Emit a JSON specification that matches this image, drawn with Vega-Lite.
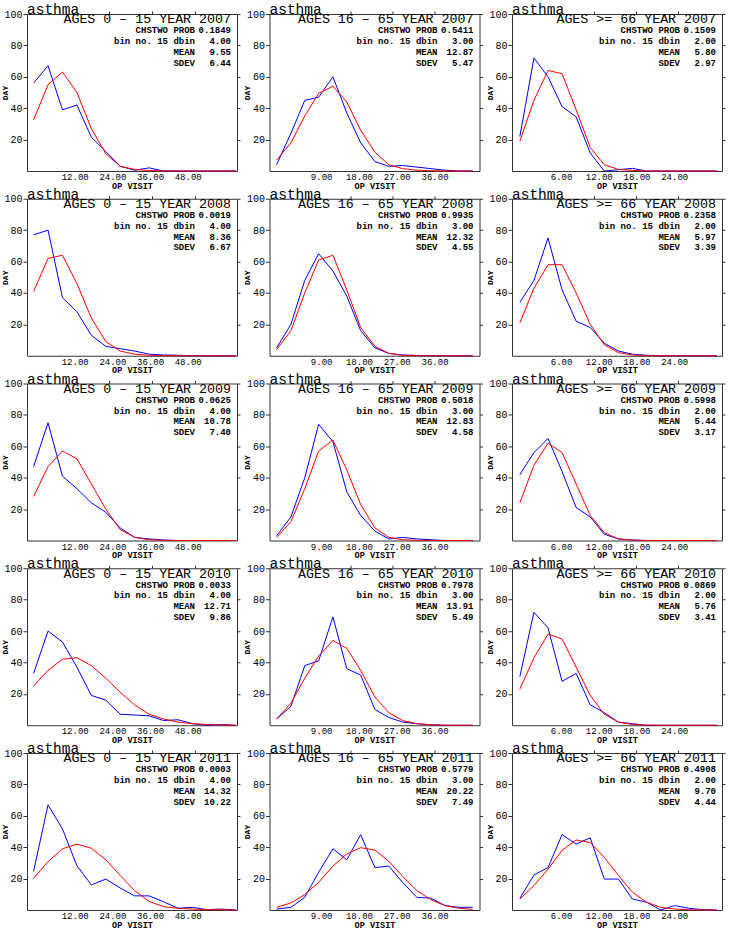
{
"$schema":"https://vega.github.io/schema/vega-lite/v6.json",
"padding":{"left":0,"top":1,"right":0,"bottom":0},
"background":"white",
"datasets":{
"stats":[
{"p":"r1c1","header":"AGES 0 – 15 YEAR 2007","vals":["0.1849","4.00","9.55","6.44"]},
{"p":"r1c2","header":"AGES 16 – 65 YEAR 2007","vals":["0.5411","3.00","12.87","5.47"]},
{"p":"r1c3","header":"AGES  >= 66 YEAR 2007","vals":["0.1509","2.00","5.80","2.97"]},
{"p":"r2c1","header":"AGES 0 – 15 YEAR 2008","vals":["0.0019","4.00","8.36","6.67"]},
{"p":"r2c2","header":"AGES 16 – 65 YEAR 2008","vals":["0.9935","3.00","12.32","4.55"]},
{"p":"r2c3","header":"AGES  >= 66 YEAR 2008","vals":["0.2358","2.00","5.97","3.39"]},
{"p":"r3c1","header":"AGES 0 – 15 YEAR 2009","vals":["0.0625","4.00","10.78","7.40"]},
{"p":"r3c2","header":"AGES 16 – 65 YEAR 2009","vals":["0.5018","3.00","12.83","4.58"]},
{"p":"r3c3","header":"AGES  >= 66 YEAR 2009","vals":["0.5998","2.00","5.44","3.17"]},
{"p":"r4c1","header":"AGES 0 – 15 YEAR 2010","vals":["0.0033","4.00","12.71","9.86"]},
{"p":"r4c2","header":"AGES 16 – 65 YEAR 2010","vals":["0.7978","3.00","13.91","5.49"]},
{"p":"r4c3","header":"AGES  >= 66 YEAR 2010","vals":["0.0869","2.00","5.76","3.41"]},
{"p":"r5c1","header":"AGES 0 – 15 YEAR 2011","vals":["0.0003","4.00","14.32","10.22"]},
{"p":"r5c2","header":"AGES 16 – 65 YEAR 2011","vals":["0.5779","3.00","20.22","7.49"]},
{"p":"r5c3","header":"AGES  >= 66 YEAR 2011","vals":["0.4908","2.00","9.70","4.44"]}
],
"curves":[
{"p":"r1c1","x":-1.1,"obs":56,"fit":32.5},{"p":"r1c1","x":3.5,"obs":67,"fit":55},{"p":"r1c1","x":8.1,"obs":39,"fit":63},{"p":"r1c1","x":12.7,"obs":42,"fit":50},{"p":"r1c1","x":17.3,"obs":21.5,"fit":27},{"p":"r1c1","x":21.9,"obs":12.5,"fit":11},{"p":"r1c1","x":26.5,"obs":3,"fit":3},{"p":"r1c1","x":31.1,"obs":0.5,"fit":1},{"p":"r1c1","x":35.7,"obs":2,"fit":0.3},{"p":"r1c1","x":40.3,"obs":0,"fit":0.1},{"p":"r1c1","x":44.9,"obs":0,"fit":0},{"p":"r1c1","x":49.5,"obs":0,"fit":0},{"p":"r1c1","x":54.1,"obs":0,"fit":0},{"p":"r1c1","x":58.7,"obs":0,"fit":0},{"p":"r1c1","x":63.3,"obs":0,"fit":0},
{"p":"r1c2","x":-1.6,"obs":4,"fit":7},{"p":"r1c2","x":1.8,"obs":24,"fit":18},{"p":"r1c2","x":5.1,"obs":45,"fit":35},{"p":"r1c2","x":8.4,"obs":47,"fit":49.5},{"p":"r1c2","x":11.8,"obs":60,"fit":54},{"p":"r1c2","x":15.1,"obs":37,"fit":44},{"p":"r1c2","x":18.4,"obs":18,"fit":26},{"p":"r1c2","x":21.8,"obs":6,"fit":12},{"p":"r1c2","x":25.1,"obs":3,"fit":4},{"p":"r1c2","x":28.4,"obs":3.5,"fit":1.5},{"p":"r1c2","x":31.8,"obs":2.5,"fit":0.5},{"p":"r1c2","x":35.1,"obs":1.5,"fit":0.2},{"p":"r1c2","x":38.5,"obs":0.5,"fit":0},{"p":"r1c2","x":41.8,"obs":0,"fit":0},{"p":"r1c2","x":45.1,"obs":0,"fit":0},
{"p":"r1c3","x":-0.55,"obs":22,"fit":19},{"p":"r1c3","x":1.69,"obs":72,"fit":45},{"p":"r1c3","x":3.93,"obs":60,"fit":64},{"p":"r1c3","x":6.16,"obs":41,"fit":62},{"p":"r1c3","x":8.4,"obs":34.5,"fit":39},{"p":"r1c3","x":10.64,"obs":11.5,"fit":15},{"p":"r1c3","x":12.88,"obs":0,"fit":4},{"p":"r1c3","x":15.12,"obs":0.8,"fit":1},{"p":"r1c3","x":17.35,"obs":1.7,"fit":0.4},{"p":"r1c3","x":19.59,"obs":0,"fit":0},{"p":"r1c3","x":21.83,"obs":0,"fit":0},{"p":"r1c3","x":24.07,"obs":0,"fit":0},{"p":"r1c3","x":26.3,"obs":0,"fit":0},{"p":"r1c3","x":28.54,"obs":0,"fit":0},{"p":"r1c3","x":30.78,"obs":0,"fit":0},
{"p":"r2c1","x":-1.1,"obs":77,"fit":41},{"p":"r2c1","x":3.5,"obs":80,"fit":62},{"p":"r2c1","x":8.1,"obs":37,"fit":64},{"p":"r2c1","x":12.7,"obs":28,"fit":46},{"p":"r2c1","x":17.3,"obs":13,"fit":24},{"p":"r2c1","x":21.9,"obs":6,"fit":9},{"p":"r2c1","x":26.5,"obs":4.5,"fit":3},{"p":"r2c1","x":31.1,"obs":3,"fit":1},{"p":"r2c1","x":35.7,"obs":1,"fit":0.3},{"p":"r2c1","x":40.3,"obs":0.5,"fit":0.1},{"p":"r2c1","x":44.9,"obs":0.3,"fit":0},{"p":"r2c1","x":49.5,"obs":0,"fit":0},{"p":"r2c1","x":54.1,"obs":0,"fit":0},{"p":"r2c1","x":58.7,"obs":0,"fit":0},{"p":"r2c1","x":63.3,"obs":0,"fit":0},
{"p":"r2c2","x":-1.6,"obs":5,"fit":4},{"p":"r2c2","x":1.8,"obs":20,"fit":16},{"p":"r2c2","x":5.1,"obs":48,"fit":40},{"p":"r2c2","x":8.4,"obs":65,"fit":61},{"p":"r2c2","x":11.8,"obs":54,"fit":64},{"p":"r2c2","x":15.1,"obs":38,"fit":42},{"p":"r2c2","x":18.4,"obs":16,"fit":18},{"p":"r2c2","x":21.8,"obs":5,"fit":6},{"p":"r2c2","x":25.1,"obs":1.5,"fit":1.5},{"p":"r2c2","x":28.4,"obs":0.5,"fit":0.3},{"p":"r2c2","x":31.8,"obs":0.2,"fit":0},{"p":"r2c2","x":35.1,"obs":0,"fit":0},{"p":"r2c2","x":38.5,"obs":0,"fit":0},{"p":"r2c2","x":41.8,"obs":0,"fit":0},{"p":"r2c2","x":45.1,"obs":0,"fit":0},
{"p":"r2c3","x":-0.55,"obs":34,"fit":21},{"p":"r2c3","x":1.69,"obs":48,"fit":43},{"p":"r2c3","x":3.93,"obs":75,"fit":58},{"p":"r2c3","x":6.16,"obs":42,"fit":58},{"p":"r2c3","x":8.4,"obs":22,"fit":40},{"p":"r2c3","x":10.64,"obs":18,"fit":20},{"p":"r2c3","x":12.88,"obs":8,"fit":7},{"p":"r2c3","x":15.12,"obs":3,"fit":2},{"p":"r2c3","x":17.35,"obs":1,"fit":0.5},{"p":"r2c3","x":19.59,"obs":0.3,"fit":0.1},{"p":"r2c3","x":21.83,"obs":0,"fit":0},{"p":"r2c3","x":24.07,"obs":0,"fit":0},{"p":"r2c3","x":26.3,"obs":0,"fit":0},{"p":"r2c3","x":28.54,"obs":0,"fit":0},{"p":"r2c3","x":30.78,"obs":0,"fit":0},
{"p":"r3c1","x":-1.1,"obs":47,"fit":28},{"p":"r3c1","x":3.5,"obs":75,"fit":47},{"p":"r3c1","x":8.1,"obs":41,"fit":57},{"p":"r3c1","x":12.7,"obs":33,"fit":52},{"p":"r3c1","x":17.3,"obs":24,"fit":36},{"p":"r3c1","x":21.9,"obs":18,"fit":20},{"p":"r3c1","x":26.5,"obs":8,"fit":7},{"p":"r3c1","x":31.1,"obs":2,"fit":2},{"p":"r3c1","x":35.7,"obs":1,"fit":0.5},{"p":"r3c1","x":40.3,"obs":0.3,"fit":0.1},{"p":"r3c1","x":44.9,"obs":0,"fit":0},{"p":"r3c1","x":49.5,"obs":0,"fit":0},{"p":"r3c1","x":54.1,"obs":0,"fit":0},{"p":"r3c1","x":58.7,"obs":0,"fit":0},{"p":"r3c1","x":63.3,"obs":0,"fit":0},
{"p":"r3c2","x":-1.6,"obs":3,"fit":2},{"p":"r3c2","x":1.8,"obs":15,"fit":12},{"p":"r3c2","x":5.1,"obs":40,"fit":33},{"p":"r3c2","x":8.4,"obs":74,"fit":57},{"p":"r3c2","x":11.8,"obs":63,"fit":64},{"p":"r3c2","x":15.1,"obs":31,"fit":45},{"p":"r3c2","x":18.4,"obs":16,"fit":23},{"p":"r3c2","x":21.8,"obs":6,"fit":8},{"p":"r3c2","x":25.1,"obs":1,"fit":2},{"p":"r3c2","x":28.4,"obs":2,"fit":0.5},{"p":"r3c2","x":31.8,"obs":1,"fit":0.1},{"p":"r3c2","x":35.1,"obs":0.5,"fit":0},{"p":"r3c2","x":38.5,"obs":0,"fit":0},{"p":"r3c2","x":41.8,"obs":0,"fit":0},{"p":"r3c2","x":45.1,"obs":0,"fit":0},
{"p":"r3c3","x":-0.55,"obs":42,"fit":24},{"p":"r3c3","x":1.69,"obs":56,"fit":48},{"p":"r3c3","x":3.93,"obs":65,"fit":62},{"p":"r3c3","x":6.16,"obs":44,"fit":56},{"p":"r3c3","x":8.4,"obs":21,"fit":36},{"p":"r3c3","x":10.64,"obs":15,"fit":16},{"p":"r3c3","x":12.88,"obs":4,"fit":5},{"p":"r3c3","x":15.12,"obs":1,"fit":1},{"p":"r3c3","x":17.35,"obs":0.3,"fit":0.3},{"p":"r3c3","x":19.59,"obs":0,"fit":0},{"p":"r3c3","x":21.83,"obs":0,"fit":0},{"p":"r3c3","x":24.07,"obs":0,"fit":0},{"p":"r3c3","x":26.3,"obs":0,"fit":0},{"p":"r3c3","x":28.54,"obs":0,"fit":0},{"p":"r3c3","x":30.78,"obs":0,"fit":0},
{"p":"r4c1","x":-1.1,"obs":33,"fit":25},{"p":"r4c1","x":3.5,"obs":60,"fit":35},{"p":"r4c1","x":8.1,"obs":53,"fit":42},{"p":"r4c1","x":12.7,"obs":37,"fit":43},{"p":"r4c1","x":17.3,"obs":19,"fit":38},{"p":"r4c1","x":21.9,"obs":16,"fit":30},{"p":"r4c1","x":26.5,"obs":7,"fit":21},{"p":"r4c1","x":31.1,"obs":6.5,"fit":13},{"p":"r4c1","x":35.7,"obs":6,"fit":7},{"p":"r4c1","x":40.3,"obs":3,"fit":4},{"p":"r4c1","x":44.9,"obs":3.5,"fit":2},{"p":"r4c1","x":49.5,"obs":1,"fit":1},{"p":"r4c1","x":54.1,"obs":0,"fit":0.5},{"p":"r4c1","x":58.7,"obs":0.5,"fit":0.2},{"p":"r4c1","x":63.3,"obs":0,"fit":0},
{"p":"r4c2","x":-1.6,"obs":4,"fit":4},{"p":"r4c2","x":1.8,"obs":12,"fit":14},{"p":"r4c2","x":5.1,"obs":38,"fit":30},{"p":"r4c2","x":8.4,"obs":41,"fit":44},{"p":"r4c2","x":11.8,"obs":69,"fit":54},{"p":"r4c2","x":15.1,"obs":36,"fit":49},{"p":"r4c2","x":18.4,"obs":32,"fit":35},{"p":"r4c2","x":21.8,"obs":10,"fit":18},{"p":"r4c2","x":25.1,"obs":5,"fit":8},{"p":"r4c2","x":28.4,"obs":2,"fit":3},{"p":"r4c2","x":31.8,"obs":1,"fit":1},{"p":"r4c2","x":35.1,"obs":0.3,"fit":0.3},{"p":"r4c2","x":38.5,"obs":0,"fit":0},{"p":"r4c2","x":41.8,"obs":0,"fit":0},{"p":"r4c2","x":45.1,"obs":0,"fit":0},
{"p":"r4c3","x":-0.55,"obs":31,"fit":23},{"p":"r4c3","x":1.69,"obs":72,"fit":43},{"p":"r4c3","x":3.93,"obs":62,"fit":58},{"p":"r4c3","x":6.16,"obs":28,"fit":55},{"p":"r4c3","x":8.4,"obs":33,"fit":37},{"p":"r4c3","x":10.64,"obs":13,"fit":19},{"p":"r4c3","x":12.88,"obs":8,"fit":7},{"p":"r4c3","x":15.12,"obs":2,"fit":2},{"p":"r4c3","x":17.35,"obs":1,"fit":0.5},{"p":"r4c3","x":19.59,"obs":0,"fit":0.1},{"p":"r4c3","x":21.83,"obs":0,"fit":0},{"p":"r4c3","x":24.07,"obs":0,"fit":0},{"p":"r4c3","x":26.3,"obs":0,"fit":0},{"p":"r4c3","x":28.54,"obs":0,"fit":0},{"p":"r4c3","x":30.78,"obs":0,"fit":0},
{"p":"r5c1","x":-1.1,"obs":24.6,"fit":20.2},{"p":"r5c1","x":3.5,"obs":67,"fit":30.8},{"p":"r5c1","x":8.1,"obs":51.6,"fit":39},{"p":"r5c1","x":12.7,"obs":28.2,"fit":42},{"p":"r5c1","x":17.3,"obs":16,"fit":39.3},{"p":"r5c1","x":21.9,"obs":19.7,"fit":32},{"p":"r5c1","x":26.5,"obs":14,"fit":22},{"p":"r5c1","x":31.1,"obs":9,"fit":12.3},{"p":"r5c1","x":35.7,"obs":9,"fit":5.5},{"p":"r5c1","x":40.3,"obs":5.3,"fit":2.1},{"p":"r5c1","x":44.9,"obs":1.1,"fit":1.1},{"p":"r5c1","x":49.5,"obs":1.7,"fit":0.6},{"p":"r5c1","x":54.1,"obs":0.2,"fit":0.2},{"p":"r5c1","x":58.7,"obs":0.6,"fit":0.2},{"p":"r5c1","x":63.3,"obs":0,"fit":0},
{"p":"r5c2","x":-1.6,"obs":0.6,"fit":1.7},{"p":"r5c2","x":1.8,"obs":1.7,"fit":4.5},{"p":"r5c2","x":5.1,"obs":8.1,"fit":9.8},{"p":"r5c2","x":8.4,"obs":24,"fit":17.6},{"p":"r5c2","x":11.8,"obs":39,"fit":28},{"p":"r5c2","x":15.1,"obs":32,"fit":35.7},{"p":"r5c2","x":18.4,"obs":48,"fit":39.7},{"p":"r5c2","x":21.8,"obs":27,"fit":38.2},{"p":"r5c2","x":25.1,"obs":28,"fit":31},{"p":"r5c2","x":28.4,"obs":17.6,"fit":21.4},{"p":"r5c2","x":31.8,"obs":8,"fit":12.3},{"p":"r5c2","x":35.1,"obs":7.6,"fit":6.6},{"p":"r5c2","x":38.5,"obs":2.8,"fit":2.8},{"p":"r5c2","x":41.8,"obs":1.7,"fit":1.1},{"p":"r5c2","x":45.1,"obs":1.7,"fit":0.4},
{"p":"r5c3","x":-0.55,"obs":7.4,"fit":7},{"p":"r5c3","x":1.69,"obs":22.3,"fit":15.5},{"p":"r5c3","x":3.93,"obs":27,"fit":26},{"p":"r5c3","x":6.16,"obs":48,"fit":38},{"p":"r5c3","x":8.4,"obs":42,"fit":44.6},{"p":"r5c3","x":10.64,"obs":46,"fit":43},{"p":"r5c3","x":12.88,"obs":19.7,"fit":33.5},{"p":"r5c3","x":15.12,"obs":19.7,"fit":22},{"p":"r5c3","x":17.35,"obs":7,"fit":11.3},{"p":"r5c3","x":19.59,"obs":5,"fit":5},{"p":"r5c3","x":21.83,"obs":0,"fit":1.7},{"p":"r5c3","x":24.07,"obs":2.8,"fit":0.6},{"p":"r5c3","x":26.3,"obs":1.1,"fit":0.2},{"p":"r5c3","x":28.54,"obs":0.2,"fit":0},{"p":"r5c3","x":30.78,"obs":0,"fit":0}
]
},
"columns":3,
"spacing":{"row":27.75,"column":32.5},
"bounds":"flush",
"concat":[
{"width":210,"height":157,"title":"asthma","layer":[
 {"data":{"name":"curves"},"transform":[{"filter":"datum.p=='r1c1'"}],"mark":{"type":"line","color":"#0000ff"},"encoding":{"x":{"field":"x","type":"quantitative","scale":{"domain":[-3.2,63.7],"nice":false,"zero":false},"axis":{"values":[12,24,36,48],"format":".2f","ticks":false,"labelPadding":1.5,"labelFontSize":9,"title":"OP VISIT","titleFontSize":8.5,"titleY":10,"titleBaseline":"top"}},"y":{"field":"obs","type":"quantitative","scale":{"domain":[0,100],"nice":false},"axis":{"values":[20,40,60,80,100],"labelPadding":1,"title":"DAY","titleFontSize":8,"titleX":-22,"titleY":78.5,"titleBaseline":"middle"}}}},
 {"data":{"name":"curves"},"transform":[{"filter":"datum.p=='r1c1'"}],"mark":{"type":"line","color":"#ff0000"},"encoding":{"x":{"field":"x","type":"quantitative","axis":{"orient":"top","values":[9.2,22.9,36.6,50.3],"labels":false,"tickSize":3,"title":null}},"y":{"field":"fit","type":"quantitative","axis":{"orient":"right","values":[20,40,60,80,100],"labels":false,"tickSize":3,"title":null}}}},
 {"data":{"name":"stats"},"transform":[{"filter":"datum.p=='r1c1'"}],"mark":{"type":"text","align":"right","baseline":"alphabetic","dx":-6,"fontSize":13.3},"encoding":{"x":{"datum":63.7,"type":"quantitative","axis":null},"y":{"datum":94,"type":"quantitative","axis":null},"text":{"field":"header"}}},
 {"data":{"name":"stats"},"transform":[{"filter":"datum.p=='r1c1'"}],"mark":{"type":"text","align":"right","baseline":"alphabetic","dx":-42,"fontSize":9,"fontWeight":"bold","lineHeight":10.8},"encoding":{"x":{"datum":63.7,"type":"quantitative","axis":null},"y":{"datum":87.7,"type":"quantitative","axis":null},"text":{"value":["CHSTWO PROB","bin no. 15 dbin","MEAN","SDEV"]}}},
 {"data":{"name":"stats"},"transform":[{"filter":"datum.p=='r1c1'"}],"mark":{"type":"text","align":"right","baseline":"alphabetic","dx":-6,"fontSize":9,"fontWeight":"bold","lineHeight":10.8},"encoding":{"x":{"datum":63.7,"type":"quantitative","axis":null},"y":{"datum":87.7,"type":"quantitative","axis":null},"text":{"field":"vals"}}}
],"resolve":{"axis":{"x":"independent","y":"independent"}}},
{"width":210,"height":157,"title":"asthma","layer":[
 {"data":{"name":"curves"},"transform":[{"filter":"datum.p=='r1c2'"}],"mark":{"type":"line","color":"#0000ff"},"encoding":{"x":{"field":"x","type":"quantitative","scale":{"domain":[-3.3,46.7],"nice":false,"zero":false},"axis":{"values":[9,18,27,36],"format":".2f","ticks":false,"labelPadding":1.5,"labelFontSize":9,"title":"OP VISIT","titleFontSize":8.5,"titleY":10,"titleBaseline":"top"}},"y":{"field":"obs","type":"quantitative","scale":{"domain":[0,100],"nice":false},"axis":{"values":[20,40,60,80,100],"labelPadding":1,"title":"DAY","titleFontSize":8,"titleX":-22,"titleY":78.5,"titleBaseline":"middle"}}}},
 {"data":{"name":"curves"},"transform":[{"filter":"datum.p=='r1c2'"}],"mark":{"type":"line","color":"#ff0000"},"encoding":{"x":{"field":"x","type":"quantitative","axis":{"orient":"top","values":[5.9,15.9,25.9,35.9],"labels":false,"tickSize":3,"title":null}},"y":{"field":"fit","type":"quantitative","axis":{"orient":"right","values":[20,40,60,80,100],"labels":false,"tickSize":3,"title":null}}}},
 {"data":{"name":"stats"},"transform":[{"filter":"datum.p=='r1c2'"}],"mark":{"type":"text","align":"right","baseline":"alphabetic","dx":-6,"fontSize":13.3},"encoding":{"x":{"datum":46.7,"type":"quantitative","axis":null},"y":{"datum":94,"type":"quantitative","axis":null},"text":{"field":"header"}}},
 {"data":{"name":"stats"},"transform":[{"filter":"datum.p=='r1c2'"}],"mark":{"type":"text","align":"right","baseline":"alphabetic","dx":-42,"fontSize":9,"fontWeight":"bold","lineHeight":10.8},"encoding":{"x":{"datum":46.7,"type":"quantitative","axis":null},"y":{"datum":87.7,"type":"quantitative","axis":null},"text":{"value":["CHSTWO PROB","bin no. 15 dbin","MEAN","SDEV"]}}},
 {"data":{"name":"stats"},"transform":[{"filter":"datum.p=='r1c2'"}],"mark":{"type":"text","align":"right","baseline":"alphabetic","dx":-6,"fontSize":9,"fontWeight":"bold","lineHeight":10.8},"encoding":{"x":{"datum":46.7,"type":"quantitative","axis":null},"y":{"datum":87.7,"type":"quantitative","axis":null},"text":{"field":"vals"}}}
],"resolve":{"axis":{"x":"independent","y":"independent"}}},
{"width":210,"height":157,"title":"asthma","layer":[
 {"data":{"name":"curves"},"transform":[{"filter":"datum.p=='r1c3'"}],"mark":{"type":"line","color":"#0000ff"},"encoding":{"x":{"field":"x","type":"quantitative","scale":{"domain":[-1.8,31.6],"nice":false,"zero":false},"axis":{"values":[6,12,18,24],"format":".2f","ticks":false,"labelPadding":1.5,"labelFontSize":9,"title":"OP VISIT","titleFontSize":8.5,"titleY":10,"titleBaseline":"top"}},"y":{"field":"obs","type":"quantitative","scale":{"domain":[0,100],"nice":false},"axis":{"values":[20,40,60,80,100],"labelPadding":1,"title":"DAY","titleFontSize":8,"titleX":-22,"titleY":78.5,"titleBaseline":"middle"}}}},
 {"data":{"name":"curves"},"transform":[{"filter":"datum.p=='r1c3'"}],"mark":{"type":"line","color":"#ff0000"},"encoding":{"x":{"field":"x","type":"quantitative","axis":{"orient":"top","values":[4.47,11.2,17.9,24.6],"labels":false,"tickSize":3,"title":null}},"y":{"field":"fit","type":"quantitative","axis":{"orient":"right","values":[20,40,60,80,100],"labels":false,"tickSize":3,"title":null}}}},
 {"data":{"name":"stats"},"transform":[{"filter":"datum.p=='r1c3'"}],"mark":{"type":"text","align":"right","baseline":"alphabetic","dx":-6,"fontSize":13.3},"encoding":{"x":{"datum":31.6,"type":"quantitative","axis":null},"y":{"datum":94,"type":"quantitative","axis":null},"text":{"field":"header"}}},
 {"data":{"name":"stats"},"transform":[{"filter":"datum.p=='r1c3'"}],"mark":{"type":"text","align":"right","baseline":"alphabetic","dx":-42,"fontSize":9,"fontWeight":"bold","lineHeight":10.8},"encoding":{"x":{"datum":31.6,"type":"quantitative","axis":null},"y":{"datum":87.7,"type":"quantitative","axis":null},"text":{"value":["CHSTWO PROB","bin no. 15 dbin","MEAN","SDEV"]}}},
 {"data":{"name":"stats"},"transform":[{"filter":"datum.p=='r1c3'"}],"mark":{"type":"text","align":"right","baseline":"alphabetic","dx":-6,"fontSize":9,"fontWeight":"bold","lineHeight":10.8},"encoding":{"x":{"datum":31.6,"type":"quantitative","axis":null},"y":{"datum":87.7,"type":"quantitative","axis":null},"text":{"field":"vals"}}}
],"resolve":{"axis":{"x":"independent","y":"independent"}}},
{"width":210,"height":157,"title":"asthma","layer":[
 {"data":{"name":"curves"},"transform":[{"filter":"datum.p=='r2c1'"}],"mark":{"type":"line","color":"#0000ff"},"encoding":{"x":{"field":"x","type":"quantitative","scale":{"domain":[-3.2,63.7],"nice":false,"zero":false},"axis":{"values":[12,24,36,48],"format":".2f","ticks":false,"labelPadding":1.5,"labelFontSize":9,"title":"OP VISIT","titleFontSize":8.5,"titleY":10,"titleBaseline":"top"}},"y":{"field":"obs","type":"quantitative","scale":{"domain":[0,100],"nice":false},"axis":{"values":[20,40,60,80,100],"labelPadding":1,"title":"DAY","titleFontSize":8,"titleX":-22,"titleY":78.5,"titleBaseline":"middle"}}}},
 {"data":{"name":"curves"},"transform":[{"filter":"datum.p=='r2c1'"}],"mark":{"type":"line","color":"#ff0000"},"encoding":{"x":{"field":"x","type":"quantitative","axis":{"orient":"top","values":[9.2,22.9,36.6,50.3],"labels":false,"tickSize":3,"title":null}},"y":{"field":"fit","type":"quantitative","axis":{"orient":"right","values":[20,40,60,80,100],"labels":false,"tickSize":3,"title":null}}}},
 {"data":{"name":"stats"},"transform":[{"filter":"datum.p=='r2c1'"}],"mark":{"type":"text","align":"right","baseline":"alphabetic","dx":-6,"fontSize":13.3},"encoding":{"x":{"datum":63.7,"type":"quantitative","axis":null},"y":{"datum":94,"type":"quantitative","axis":null},"text":{"field":"header"}}},
 {"data":{"name":"stats"},"transform":[{"filter":"datum.p=='r2c1'"}],"mark":{"type":"text","align":"right","baseline":"alphabetic","dx":-42,"fontSize":9,"fontWeight":"bold","lineHeight":10.8},"encoding":{"x":{"datum":63.7,"type":"quantitative","axis":null},"y":{"datum":87.7,"type":"quantitative","axis":null},"text":{"value":["CHSTWO PROB","bin no. 15 dbin","MEAN","SDEV"]}}},
 {"data":{"name":"stats"},"transform":[{"filter":"datum.p=='r2c1'"}],"mark":{"type":"text","align":"right","baseline":"alphabetic","dx":-6,"fontSize":9,"fontWeight":"bold","lineHeight":10.8},"encoding":{"x":{"datum":63.7,"type":"quantitative","axis":null},"y":{"datum":87.7,"type":"quantitative","axis":null},"text":{"field":"vals"}}}
],"resolve":{"axis":{"x":"independent","y":"independent"}}},
{"width":210,"height":157,"title":"asthma","layer":[
 {"data":{"name":"curves"},"transform":[{"filter":"datum.p=='r2c2'"}],"mark":{"type":"line","color":"#0000ff"},"encoding":{"x":{"field":"x","type":"quantitative","scale":{"domain":[-3.3,46.7],"nice":false,"zero":false},"axis":{"values":[9,18,27,36],"format":".2f","ticks":false,"labelPadding":1.5,"labelFontSize":9,"title":"OP VISIT","titleFontSize":8.5,"titleY":10,"titleBaseline":"top"}},"y":{"field":"obs","type":"quantitative","scale":{"domain":[0,100],"nice":false},"axis":{"values":[20,40,60,80,100],"labelPadding":1,"title":"DAY","titleFontSize":8,"titleX":-22,"titleY":78.5,"titleBaseline":"middle"}}}},
 {"data":{"name":"curves"},"transform":[{"filter":"datum.p=='r2c2'"}],"mark":{"type":"line","color":"#ff0000"},"encoding":{"x":{"field":"x","type":"quantitative","axis":{"orient":"top","values":[5.9,15.9,25.9,35.9],"labels":false,"tickSize":3,"title":null}},"y":{"field":"fit","type":"quantitative","axis":{"orient":"right","values":[20,40,60,80,100],"labels":false,"tickSize":3,"title":null}}}},
 {"data":{"name":"stats"},"transform":[{"filter":"datum.p=='r2c2'"}],"mark":{"type":"text","align":"right","baseline":"alphabetic","dx":-6,"fontSize":13.3},"encoding":{"x":{"datum":46.7,"type":"quantitative","axis":null},"y":{"datum":94,"type":"quantitative","axis":null},"text":{"field":"header"}}},
 {"data":{"name":"stats"},"transform":[{"filter":"datum.p=='r2c2'"}],"mark":{"type":"text","align":"right","baseline":"alphabetic","dx":-42,"fontSize":9,"fontWeight":"bold","lineHeight":10.8},"encoding":{"x":{"datum":46.7,"type":"quantitative","axis":null},"y":{"datum":87.7,"type":"quantitative","axis":null},"text":{"value":["CHSTWO PROB","bin no. 15 dbin","MEAN","SDEV"]}}},
 {"data":{"name":"stats"},"transform":[{"filter":"datum.p=='r2c2'"}],"mark":{"type":"text","align":"right","baseline":"alphabetic","dx":-6,"fontSize":9,"fontWeight":"bold","lineHeight":10.8},"encoding":{"x":{"datum":46.7,"type":"quantitative","axis":null},"y":{"datum":87.7,"type":"quantitative","axis":null},"text":{"field":"vals"}}}
],"resolve":{"axis":{"x":"independent","y":"independent"}}},
{"width":210,"height":157,"title":"asthma","layer":[
 {"data":{"name":"curves"},"transform":[{"filter":"datum.p=='r2c3'"}],"mark":{"type":"line","color":"#0000ff"},"encoding":{"x":{"field":"x","type":"quantitative","scale":{"domain":[-1.8,31.6],"nice":false,"zero":false},"axis":{"values":[6,12,18,24],"format":".2f","ticks":false,"labelPadding":1.5,"labelFontSize":9,"title":"OP VISIT","titleFontSize":8.5,"titleY":10,"titleBaseline":"top"}},"y":{"field":"obs","type":"quantitative","scale":{"domain":[0,100],"nice":false},"axis":{"values":[20,40,60,80,100],"labelPadding":1,"title":"DAY","titleFontSize":8,"titleX":-22,"titleY":78.5,"titleBaseline":"middle"}}}},
 {"data":{"name":"curves"},"transform":[{"filter":"datum.p=='r2c3'"}],"mark":{"type":"line","color":"#ff0000"},"encoding":{"x":{"field":"x","type":"quantitative","axis":{"orient":"top","values":[4.47,11.2,17.9,24.6],"labels":false,"tickSize":3,"title":null}},"y":{"field":"fit","type":"quantitative","axis":{"orient":"right","values":[20,40,60,80,100],"labels":false,"tickSize":3,"title":null}}}},
 {"data":{"name":"stats"},"transform":[{"filter":"datum.p=='r2c3'"}],"mark":{"type":"text","align":"right","baseline":"alphabetic","dx":-6,"fontSize":13.3},"encoding":{"x":{"datum":31.6,"type":"quantitative","axis":null},"y":{"datum":94,"type":"quantitative","axis":null},"text":{"field":"header"}}},
 {"data":{"name":"stats"},"transform":[{"filter":"datum.p=='r2c3'"}],"mark":{"type":"text","align":"right","baseline":"alphabetic","dx":-42,"fontSize":9,"fontWeight":"bold","lineHeight":10.8},"encoding":{"x":{"datum":31.6,"type":"quantitative","axis":null},"y":{"datum":87.7,"type":"quantitative","axis":null},"text":{"value":["CHSTWO PROB","bin no. 15 dbin","MEAN","SDEV"]}}},
 {"data":{"name":"stats"},"transform":[{"filter":"datum.p=='r2c3'"}],"mark":{"type":"text","align":"right","baseline":"alphabetic","dx":-6,"fontSize":9,"fontWeight":"bold","lineHeight":10.8},"encoding":{"x":{"datum":31.6,"type":"quantitative","axis":null},"y":{"datum":87.7,"type":"quantitative","axis":null},"text":{"field":"vals"}}}
],"resolve":{"axis":{"x":"independent","y":"independent"}}},
{"width":210,"height":157,"title":"asthma","layer":[
 {"data":{"name":"curves"},"transform":[{"filter":"datum.p=='r3c1'"}],"mark":{"type":"line","color":"#0000ff"},"encoding":{"x":{"field":"x","type":"quantitative","scale":{"domain":[-3.2,63.7],"nice":false,"zero":false},"axis":{"values":[12,24,36,48],"format":".2f","ticks":false,"labelPadding":1.5,"labelFontSize":9,"title":"OP VISIT","titleFontSize":8.5,"titleY":10,"titleBaseline":"top"}},"y":{"field":"obs","type":"quantitative","scale":{"domain":[0,100],"nice":false},"axis":{"values":[20,40,60,80,100],"labelPadding":1,"title":"DAY","titleFontSize":8,"titleX":-22,"titleY":78.5,"titleBaseline":"middle"}}}},
 {"data":{"name":"curves"},"transform":[{"filter":"datum.p=='r3c1'"}],"mark":{"type":"line","color":"#ff0000"},"encoding":{"x":{"field":"x","type":"quantitative","axis":{"orient":"top","values":[9.2,22.9,36.6,50.3],"labels":false,"tickSize":3,"title":null}},"y":{"field":"fit","type":"quantitative","axis":{"orient":"right","values":[20,40,60,80,100],"labels":false,"tickSize":3,"title":null}}}},
 {"data":{"name":"stats"},"transform":[{"filter":"datum.p=='r3c1'"}],"mark":{"type":"text","align":"right","baseline":"alphabetic","dx":-6,"fontSize":13.3},"encoding":{"x":{"datum":63.7,"type":"quantitative","axis":null},"y":{"datum":94,"type":"quantitative","axis":null},"text":{"field":"header"}}},
 {"data":{"name":"stats"},"transform":[{"filter":"datum.p=='r3c1'"}],"mark":{"type":"text","align":"right","baseline":"alphabetic","dx":-42,"fontSize":9,"fontWeight":"bold","lineHeight":10.8},"encoding":{"x":{"datum":63.7,"type":"quantitative","axis":null},"y":{"datum":87.7,"type":"quantitative","axis":null},"text":{"value":["CHSTWO PROB","bin no. 15 dbin","MEAN","SDEV"]}}},
 {"data":{"name":"stats"},"transform":[{"filter":"datum.p=='r3c1'"}],"mark":{"type":"text","align":"right","baseline":"alphabetic","dx":-6,"fontSize":9,"fontWeight":"bold","lineHeight":10.8},"encoding":{"x":{"datum":63.7,"type":"quantitative","axis":null},"y":{"datum":87.7,"type":"quantitative","axis":null},"text":{"field":"vals"}}}
],"resolve":{"axis":{"x":"independent","y":"independent"}}},
{"width":210,"height":157,"title":"asthma","layer":[
 {"data":{"name":"curves"},"transform":[{"filter":"datum.p=='r3c2'"}],"mark":{"type":"line","color":"#0000ff"},"encoding":{"x":{"field":"x","type":"quantitative","scale":{"domain":[-3.3,46.7],"nice":false,"zero":false},"axis":{"values":[9,18,27,36],"format":".2f","ticks":false,"labelPadding":1.5,"labelFontSize":9,"title":"OP VISIT","titleFontSize":8.5,"titleY":10,"titleBaseline":"top"}},"y":{"field":"obs","type":"quantitative","scale":{"domain":[0,100],"nice":false},"axis":{"values":[20,40,60,80,100],"labelPadding":1,"title":"DAY","titleFontSize":8,"titleX":-22,"titleY":78.5,"titleBaseline":"middle"}}}},
 {"data":{"name":"curves"},"transform":[{"filter":"datum.p=='r3c2'"}],"mark":{"type":"line","color":"#ff0000"},"encoding":{"x":{"field":"x","type":"quantitative","axis":{"orient":"top","values":[5.9,15.9,25.9,35.9],"labels":false,"tickSize":3,"title":null}},"y":{"field":"fit","type":"quantitative","axis":{"orient":"right","values":[20,40,60,80,100],"labels":false,"tickSize":3,"title":null}}}},
 {"data":{"name":"stats"},"transform":[{"filter":"datum.p=='r3c2'"}],"mark":{"type":"text","align":"right","baseline":"alphabetic","dx":-6,"fontSize":13.3},"encoding":{"x":{"datum":46.7,"type":"quantitative","axis":null},"y":{"datum":94,"type":"quantitative","axis":null},"text":{"field":"header"}}},
 {"data":{"name":"stats"},"transform":[{"filter":"datum.p=='r3c2'"}],"mark":{"type":"text","align":"right","baseline":"alphabetic","dx":-42,"fontSize":9,"fontWeight":"bold","lineHeight":10.8},"encoding":{"x":{"datum":46.7,"type":"quantitative","axis":null},"y":{"datum":87.7,"type":"quantitative","axis":null},"text":{"value":["CHSTWO PROB","bin no. 15 dbin","MEAN","SDEV"]}}},
 {"data":{"name":"stats"},"transform":[{"filter":"datum.p=='r3c2'"}],"mark":{"type":"text","align":"right","baseline":"alphabetic","dx":-6,"fontSize":9,"fontWeight":"bold","lineHeight":10.8},"encoding":{"x":{"datum":46.7,"type":"quantitative","axis":null},"y":{"datum":87.7,"type":"quantitative","axis":null},"text":{"field":"vals"}}}
],"resolve":{"axis":{"x":"independent","y":"independent"}}},
{"width":210,"height":157,"title":"asthma","layer":[
 {"data":{"name":"curves"},"transform":[{"filter":"datum.p=='r3c3'"}],"mark":{"type":"line","color":"#0000ff"},"encoding":{"x":{"field":"x","type":"quantitative","scale":{"domain":[-1.8,31.6],"nice":false,"zero":false},"axis":{"values":[6,12,18,24],"format":".2f","ticks":false,"labelPadding":1.5,"labelFontSize":9,"title":"OP VISIT","titleFontSize":8.5,"titleY":10,"titleBaseline":"top"}},"y":{"field":"obs","type":"quantitative","scale":{"domain":[0,100],"nice":false},"axis":{"values":[20,40,60,80,100],"labelPadding":1,"title":"DAY","titleFontSize":8,"titleX":-22,"titleY":78.5,"titleBaseline":"middle"}}}},
 {"data":{"name":"curves"},"transform":[{"filter":"datum.p=='r3c3'"}],"mark":{"type":"line","color":"#ff0000"},"encoding":{"x":{"field":"x","type":"quantitative","axis":{"orient":"top","values":[4.47,11.2,17.9,24.6],"labels":false,"tickSize":3,"title":null}},"y":{"field":"fit","type":"quantitative","axis":{"orient":"right","values":[20,40,60,80,100],"labels":false,"tickSize":3,"title":null}}}},
 {"data":{"name":"stats"},"transform":[{"filter":"datum.p=='r3c3'"}],"mark":{"type":"text","align":"right","baseline":"alphabetic","dx":-6,"fontSize":13.3},"encoding":{"x":{"datum":31.6,"type":"quantitative","axis":null},"y":{"datum":94,"type":"quantitative","axis":null},"text":{"field":"header"}}},
 {"data":{"name":"stats"},"transform":[{"filter":"datum.p=='r3c3'"}],"mark":{"type":"text","align":"right","baseline":"alphabetic","dx":-42,"fontSize":9,"fontWeight":"bold","lineHeight":10.8},"encoding":{"x":{"datum":31.6,"type":"quantitative","axis":null},"y":{"datum":87.7,"type":"quantitative","axis":null},"text":{"value":["CHSTWO PROB","bin no. 15 dbin","MEAN","SDEV"]}}},
 {"data":{"name":"stats"},"transform":[{"filter":"datum.p=='r3c3'"}],"mark":{"type":"text","align":"right","baseline":"alphabetic","dx":-6,"fontSize":9,"fontWeight":"bold","lineHeight":10.8},"encoding":{"x":{"datum":31.6,"type":"quantitative","axis":null},"y":{"datum":87.7,"type":"quantitative","axis":null},"text":{"field":"vals"}}}
],"resolve":{"axis":{"x":"independent","y":"independent"}}},
{"width":210,"height":157,"title":"asthma","layer":[
 {"data":{"name":"curves"},"transform":[{"filter":"datum.p=='r4c1'"}],"mark":{"type":"line","color":"#0000ff"},"encoding":{"x":{"field":"x","type":"quantitative","scale":{"domain":[-3.2,63.7],"nice":false,"zero":false},"axis":{"values":[12,24,36,48],"format":".2f","ticks":false,"labelPadding":1.5,"labelFontSize":9,"title":"OP VISIT","titleFontSize":8.5,"titleY":10,"titleBaseline":"top"}},"y":{"field":"obs","type":"quantitative","scale":{"domain":[0,100],"nice":false},"axis":{"values":[20,40,60,80,100],"labelPadding":1,"title":"DAY","titleFontSize":8,"titleX":-22,"titleY":78.5,"titleBaseline":"middle"}}}},
 {"data":{"name":"curves"},"transform":[{"filter":"datum.p=='r4c1'"}],"mark":{"type":"line","color":"#ff0000"},"encoding":{"x":{"field":"x","type":"quantitative","axis":{"orient":"top","values":[9.2,22.9,36.6,50.3],"labels":false,"tickSize":3,"title":null}},"y":{"field":"fit","type":"quantitative","axis":{"orient":"right","values":[20,40,60,80,100],"labels":false,"tickSize":3,"title":null}}}},
 {"data":{"name":"stats"},"transform":[{"filter":"datum.p=='r4c1'"}],"mark":{"type":"text","align":"right","baseline":"alphabetic","dx":-6,"fontSize":13.3},"encoding":{"x":{"datum":63.7,"type":"quantitative","axis":null},"y":{"datum":94,"type":"quantitative","axis":null},"text":{"field":"header"}}},
 {"data":{"name":"stats"},"transform":[{"filter":"datum.p=='r4c1'"}],"mark":{"type":"text","align":"right","baseline":"alphabetic","dx":-42,"fontSize":9,"fontWeight":"bold","lineHeight":10.8},"encoding":{"x":{"datum":63.7,"type":"quantitative","axis":null},"y":{"datum":87.7,"type":"quantitative","axis":null},"text":{"value":["CHSTWO PROB","bin no. 15 dbin","MEAN","SDEV"]}}},
 {"data":{"name":"stats"},"transform":[{"filter":"datum.p=='r4c1'"}],"mark":{"type":"text","align":"right","baseline":"alphabetic","dx":-6,"fontSize":9,"fontWeight":"bold","lineHeight":10.8},"encoding":{"x":{"datum":63.7,"type":"quantitative","axis":null},"y":{"datum":87.7,"type":"quantitative","axis":null},"text":{"field":"vals"}}}
],"resolve":{"axis":{"x":"independent","y":"independent"}}},
{"width":210,"height":157,"title":"asthma","layer":[
 {"data":{"name":"curves"},"transform":[{"filter":"datum.p=='r4c2'"}],"mark":{"type":"line","color":"#0000ff"},"encoding":{"x":{"field":"x","type":"quantitative","scale":{"domain":[-3.3,46.7],"nice":false,"zero":false},"axis":{"values":[9,18,27,36],"format":".2f","ticks":false,"labelPadding":1.5,"labelFontSize":9,"title":"OP VISIT","titleFontSize":8.5,"titleY":10,"titleBaseline":"top"}},"y":{"field":"obs","type":"quantitative","scale":{"domain":[0,100],"nice":false},"axis":{"values":[20,40,60,80,100],"labelPadding":1,"title":"DAY","titleFontSize":8,"titleX":-22,"titleY":78.5,"titleBaseline":"middle"}}}},
 {"data":{"name":"curves"},"transform":[{"filter":"datum.p=='r4c2'"}],"mark":{"type":"line","color":"#ff0000"},"encoding":{"x":{"field":"x","type":"quantitative","axis":{"orient":"top","values":[5.9,15.9,25.9,35.9],"labels":false,"tickSize":3,"title":null}},"y":{"field":"fit","type":"quantitative","axis":{"orient":"right","values":[20,40,60,80,100],"labels":false,"tickSize":3,"title":null}}}},
 {"data":{"name":"stats"},"transform":[{"filter":"datum.p=='r4c2'"}],"mark":{"type":"text","align":"right","baseline":"alphabetic","dx":-6,"fontSize":13.3},"encoding":{"x":{"datum":46.7,"type":"quantitative","axis":null},"y":{"datum":94,"type":"quantitative","axis":null},"text":{"field":"header"}}},
 {"data":{"name":"stats"},"transform":[{"filter":"datum.p=='r4c2'"}],"mark":{"type":"text","align":"right","baseline":"alphabetic","dx":-42,"fontSize":9,"fontWeight":"bold","lineHeight":10.8},"encoding":{"x":{"datum":46.7,"type":"quantitative","axis":null},"y":{"datum":87.7,"type":"quantitative","axis":null},"text":{"value":["CHSTWO PROB","bin no. 15 dbin","MEAN","SDEV"]}}},
 {"data":{"name":"stats"},"transform":[{"filter":"datum.p=='r4c2'"}],"mark":{"type":"text","align":"right","baseline":"alphabetic","dx":-6,"fontSize":9,"fontWeight":"bold","lineHeight":10.8},"encoding":{"x":{"datum":46.7,"type":"quantitative","axis":null},"y":{"datum":87.7,"type":"quantitative","axis":null},"text":{"field":"vals"}}}
],"resolve":{"axis":{"x":"independent","y":"independent"}}},
{"width":210,"height":157,"title":"asthma","layer":[
 {"data":{"name":"curves"},"transform":[{"filter":"datum.p=='r4c3'"}],"mark":{"type":"line","color":"#0000ff"},"encoding":{"x":{"field":"x","type":"quantitative","scale":{"domain":[-1.8,31.6],"nice":false,"zero":false},"axis":{"values":[6,12,18,24],"format":".2f","ticks":false,"labelPadding":1.5,"labelFontSize":9,"title":"OP VISIT","titleFontSize":8.5,"titleY":10,"titleBaseline":"top"}},"y":{"field":"obs","type":"quantitative","scale":{"domain":[0,100],"nice":false},"axis":{"values":[20,40,60,80,100],"labelPadding":1,"title":"DAY","titleFontSize":8,"titleX":-22,"titleY":78.5,"titleBaseline":"middle"}}}},
 {"data":{"name":"curves"},"transform":[{"filter":"datum.p=='r4c3'"}],"mark":{"type":"line","color":"#ff0000"},"encoding":{"x":{"field":"x","type":"quantitative","axis":{"orient":"top","values":[4.47,11.2,17.9,24.6],"labels":false,"tickSize":3,"title":null}},"y":{"field":"fit","type":"quantitative","axis":{"orient":"right","values":[20,40,60,80,100],"labels":false,"tickSize":3,"title":null}}}},
 {"data":{"name":"stats"},"transform":[{"filter":"datum.p=='r4c3'"}],"mark":{"type":"text","align":"right","baseline":"alphabetic","dx":-6,"fontSize":13.3},"encoding":{"x":{"datum":31.6,"type":"quantitative","axis":null},"y":{"datum":94,"type":"quantitative","axis":null},"text":{"field":"header"}}},
 {"data":{"name":"stats"},"transform":[{"filter":"datum.p=='r4c3'"}],"mark":{"type":"text","align":"right","baseline":"alphabetic","dx":-42,"fontSize":9,"fontWeight":"bold","lineHeight":10.8},"encoding":{"x":{"datum":31.6,"type":"quantitative","axis":null},"y":{"datum":87.7,"type":"quantitative","axis":null},"text":{"value":["CHSTWO PROB","bin no. 15 dbin","MEAN","SDEV"]}}},
 {"data":{"name":"stats"},"transform":[{"filter":"datum.p=='r4c3'"}],"mark":{"type":"text","align":"right","baseline":"alphabetic","dx":-6,"fontSize":9,"fontWeight":"bold","lineHeight":10.8},"encoding":{"x":{"datum":31.6,"type":"quantitative","axis":null},"y":{"datum":87.7,"type":"quantitative","axis":null},"text":{"field":"vals"}}}
],"resolve":{"axis":{"x":"independent","y":"independent"}}},
{"width":210,"height":157,"title":"asthma","layer":[
 {"data":{"name":"curves"},"transform":[{"filter":"datum.p=='r5c1'"}],"mark":{"type":"line","color":"#0000ff"},"encoding":{"x":{"field":"x","type":"quantitative","scale":{"domain":[-3.2,63.7],"nice":false,"zero":false},"axis":{"values":[12,24,36,48],"format":".2f","ticks":false,"labelPadding":1.5,"labelFontSize":9,"title":"OP VISIT","titleFontSize":8.5,"titleY":10,"titleBaseline":"top"}},"y":{"field":"obs","type":"quantitative","scale":{"domain":[0,100],"nice":false},"axis":{"values":[20,40,60,80,100],"labelPadding":1,"title":"DAY","titleFontSize":8,"titleX":-22,"titleY":78.5,"titleBaseline":"middle"}}}},
 {"data":{"name":"curves"},"transform":[{"filter":"datum.p=='r5c1'"}],"mark":{"type":"line","color":"#ff0000"},"encoding":{"x":{"field":"x","type":"quantitative","axis":{"orient":"top","values":[9.2,22.9,36.6,50.3],"labels":false,"tickSize":3,"title":null}},"y":{"field":"fit","type":"quantitative","axis":{"orient":"right","values":[20,40,60,80,100],"labels":false,"tickSize":3,"title":null}}}},
 {"data":{"name":"stats"},"transform":[{"filter":"datum.p=='r5c1'"}],"mark":{"type":"text","align":"right","baseline":"alphabetic","dx":-6,"fontSize":13.3},"encoding":{"x":{"datum":63.7,"type":"quantitative","axis":null},"y":{"datum":94,"type":"quantitative","axis":null},"text":{"field":"header"}}},
 {"data":{"name":"stats"},"transform":[{"filter":"datum.p=='r5c1'"}],"mark":{"type":"text","align":"right","baseline":"alphabetic","dx":-42,"fontSize":9,"fontWeight":"bold","lineHeight":10.8},"encoding":{"x":{"datum":63.7,"type":"quantitative","axis":null},"y":{"datum":87.7,"type":"quantitative","axis":null},"text":{"value":["CHSTWO PROB","bin no. 15 dbin","MEAN","SDEV"]}}},
 {"data":{"name":"stats"},"transform":[{"filter":"datum.p=='r5c1'"}],"mark":{"type":"text","align":"right","baseline":"alphabetic","dx":-6,"fontSize":9,"fontWeight":"bold","lineHeight":10.8},"encoding":{"x":{"datum":63.7,"type":"quantitative","axis":null},"y":{"datum":87.7,"type":"quantitative","axis":null},"text":{"field":"vals"}}}
],"resolve":{"axis":{"x":"independent","y":"independent"}}},
{"width":210,"height":157,"title":"asthma","layer":[
 {"data":{"name":"curves"},"transform":[{"filter":"datum.p=='r5c2'"}],"mark":{"type":"line","color":"#0000ff"},"encoding":{"x":{"field":"x","type":"quantitative","scale":{"domain":[-3.3,46.7],"nice":false,"zero":false},"axis":{"values":[9,18,27,36],"format":".2f","ticks":false,"labelPadding":1.5,"labelFontSize":9,"title":"OP VISIT","titleFontSize":8.5,"titleY":10,"titleBaseline":"top"}},"y":{"field":"obs","type":"quantitative","scale":{"domain":[0,100],"nice":false},"axis":{"values":[20,40,60,80,100],"labelPadding":1,"title":"DAY","titleFontSize":8,"titleX":-22,"titleY":78.5,"titleBaseline":"middle"}}}},
 {"data":{"name":"curves"},"transform":[{"filter":"datum.p=='r5c2'"}],"mark":{"type":"line","color":"#ff0000"},"encoding":{"x":{"field":"x","type":"quantitative","axis":{"orient":"top","values":[5.9,15.9,25.9,35.9],"labels":false,"tickSize":3,"title":null}},"y":{"field":"fit","type":"quantitative","axis":{"orient":"right","values":[20,40,60,80,100],"labels":false,"tickSize":3,"title":null}}}},
 {"data":{"name":"stats"},"transform":[{"filter":"datum.p=='r5c2'"}],"mark":{"type":"text","align":"right","baseline":"alphabetic","dx":-6,"fontSize":13.3},"encoding":{"x":{"datum":46.7,"type":"quantitative","axis":null},"y":{"datum":94,"type":"quantitative","axis":null},"text":{"field":"header"}}},
 {"data":{"name":"stats"},"transform":[{"filter":"datum.p=='r5c2'"}],"mark":{"type":"text","align":"right","baseline":"alphabetic","dx":-42,"fontSize":9,"fontWeight":"bold","lineHeight":10.8},"encoding":{"x":{"datum":46.7,"type":"quantitative","axis":null},"y":{"datum":87.7,"type":"quantitative","axis":null},"text":{"value":["CHSTWO PROB","bin no. 15 dbin","MEAN","SDEV"]}}},
 {"data":{"name":"stats"},"transform":[{"filter":"datum.p=='r5c2'"}],"mark":{"type":"text","align":"right","baseline":"alphabetic","dx":-6,"fontSize":9,"fontWeight":"bold","lineHeight":10.8},"encoding":{"x":{"datum":46.7,"type":"quantitative","axis":null},"y":{"datum":87.7,"type":"quantitative","axis":null},"text":{"field":"vals"}}}
],"resolve":{"axis":{"x":"independent","y":"independent"}}},
{"width":210,"height":157,"title":"asthma","layer":[
 {"data":{"name":"curves"},"transform":[{"filter":"datum.p=='r5c3'"}],"mark":{"type":"line","color":"#0000ff"},"encoding":{"x":{"field":"x","type":"quantitative","scale":{"domain":[-1.8,31.6],"nice":false,"zero":false},"axis":{"values":[6,12,18,24],"format":".2f","ticks":false,"labelPadding":1.5,"labelFontSize":9,"title":"OP VISIT","titleFontSize":8.5,"titleY":10,"titleBaseline":"top"}},"y":{"field":"obs","type":"quantitative","scale":{"domain":[0,100],"nice":false},"axis":{"values":[20,40,60,80,100],"labelPadding":1,"title":"DAY","titleFontSize":8,"titleX":-22,"titleY":78.5,"titleBaseline":"middle"}}}},
 {"data":{"name":"curves"},"transform":[{"filter":"datum.p=='r5c3'"}],"mark":{"type":"line","color":"#ff0000"},"encoding":{"x":{"field":"x","type":"quantitative","axis":{"orient":"top","values":[4.47,11.2,17.9,24.6],"labels":false,"tickSize":3,"title":null}},"y":{"field":"fit","type":"quantitative","axis":{"orient":"right","values":[20,40,60,80,100],"labels":false,"tickSize":3,"title":null}}}},
 {"data":{"name":"stats"},"transform":[{"filter":"datum.p=='r5c3'"}],"mark":{"type":"text","align":"right","baseline":"alphabetic","dx":-6,"fontSize":13.3},"encoding":{"x":{"datum":31.6,"type":"quantitative","axis":null},"y":{"datum":94,"type":"quantitative","axis":null},"text":{"field":"header"}}},
 {"data":{"name":"stats"},"transform":[{"filter":"datum.p=='r5c3'"}],"mark":{"type":"text","align":"right","baseline":"alphabetic","dx":-42,"fontSize":9,"fontWeight":"bold","lineHeight":10.8},"encoding":{"x":{"datum":31.6,"type":"quantitative","axis":null},"y":{"datum":87.7,"type":"quantitative","axis":null},"text":{"value":["CHSTWO PROB","bin no. 15 dbin","MEAN","SDEV"]}}},
 {"data":{"name":"stats"},"transform":[{"filter":"datum.p=='r5c3'"}],"mark":{"type":"text","align":"right","baseline":"alphabetic","dx":-6,"fontSize":9,"fontWeight":"bold","lineHeight":10.8},"encoding":{"x":{"datum":31.6,"type":"quantitative","axis":null},"y":{"datum":87.7,"type":"quantitative","axis":null},"text":{"field":"vals"}}}
],"resolve":{"axis":{"x":"independent","y":"independent"}}}
],
"config":{
 "view":{"stroke":"#333333","strokeWidth":1},
 "axis":{"grid":false,"domain":false,"labelFont":"Liberation Mono","labelFontSize":10,"labelColor":"#000000","tickColor":"#333333","tickSize":4,"titleFont":"Liberation Mono","titleFontWeight":"bold","titleColor":"#000000"},
 "title":{"font":"Liberation Mono","fontSize":14.5,"fontWeight":"normal","anchor":"start","frame":"group","offset":-8.5,"baseline":"alphabetic","color":"#000000"},
 "line":{"strokeWidth":1},
 "text":{"font":"Liberation Mono","color":"#000000"}
}
}
